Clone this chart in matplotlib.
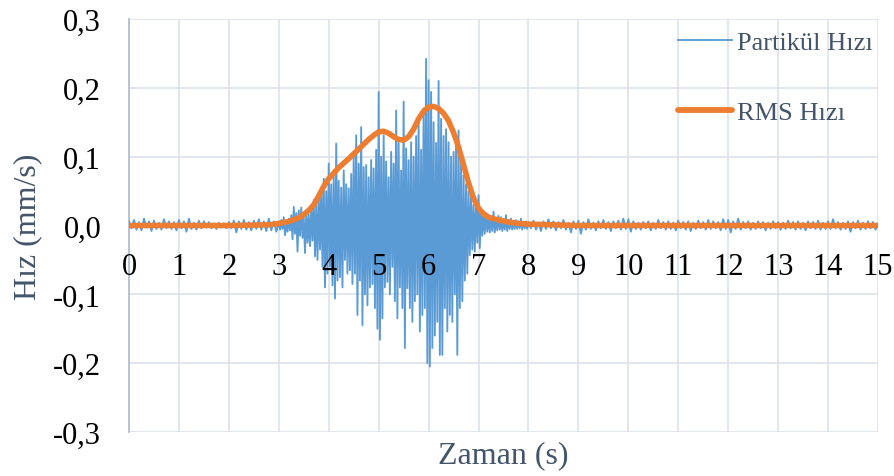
import numpy as np
import matplotlib
matplotlib.use("Agg")
import matplotlib.pyplot as plt
from matplotlib.lines import Line2D

plt.rcParams['font.family'] = ['Liberation Serif', 'DejaVu Serif']

# particle velocity (mm/s)
# quiet part 0 - 3 s, one value every 0.05 s
vel_pre = [0.006, -0.004, 0.008, -0.006, 0.005, -0.007, 0.010, -0.003, 0.006, -0.008,
           0.007, -0.005, 0.004, -0.006, 0.009, -0.004, 0.006, -0.005, 0.005, -0.007,
           0.008, -0.004, 0.006, -0.009, 0.010, -0.005, 0.004, -0.006, 0.007, -0.004,
           0.006, -0.003, 0.005, -0.004, 0.003, -0.005, 0.004, -0.003, 0.003, -0.004,
           0.005, -0.004, 0.007, -0.010, 0.006, -0.005, 0.008, -0.006, 0.005, -0.007,
           0.007, -0.005, 0.009, -0.006, 0.006, -0.008, 0.010, -0.007, 0.006, -0.009]
# burst 3 - 8 s, one value every 0.025 s
vel_burst = [0.004, -0.006, 0.008, -0.005, 0.012, -0.014, 0.006, -0.009, 0.010, -0.007,
             0.015, -0.020, 0.027, -0.012, 0.018, -0.038, 0.022, -0.015, 0.026, -0.018,
             0.012, -0.040, 0.020, -0.025, 0.016, -0.030, 0.025, -0.022, 0.037, -0.045,
             0.030, -0.050, 0.045, -0.035, 0.055, -0.060, 0.068, -0.090, 0.050, -0.070,
             0.090, -0.060, 0.060, -0.087, 0.070, -0.106, 0.119, -0.080, 0.065, -0.075,
             0.055, -0.090, 0.080, -0.050, 0.060, -0.070, 0.054, -0.065, 0.075, -0.085,
             0.100, -0.070, 0.131, -0.130, 0.090, -0.080, 0.143, -0.145, 0.085, -0.100,
             0.088, -0.116, 0.070, -0.090, 0.095, -0.085, 0.083, -0.120, 0.110, -0.150,
             0.194, -0.166, 0.100, -0.135, 0.131, -0.090, 0.093, -0.082, 0.070, -0.100,
             0.107, -0.060, 0.090, -0.110, 0.167, -0.135, 0.120, -0.090, 0.080, -0.120,
             0.180, -0.178, 0.112, -0.091, 0.095, -0.120, 0.121, -0.140, 0.100, -0.110,
             0.130, -0.100, 0.150, -0.154, 0.110, -0.130, 0.170, -0.120, 0.242, -0.200,
             0.211, -0.205, 0.194, -0.178, 0.150, -0.160, 0.120, -0.140, 0.210, -0.188,
             0.155, -0.188, 0.130, -0.120, 0.140, -0.154, 0.121, -0.130, 0.100, -0.140,
             0.107, -0.100, 0.120, -0.188, 0.138, -0.120, 0.090, -0.110, 0.073, -0.080,
             0.060, -0.070, 0.050, -0.043, 0.044, -0.035, 0.030, -0.038, 0.035, -0.025,
             0.044, -0.033, 0.025, -0.015, 0.020, -0.012, 0.017, -0.009, 0.015, -0.010,
             0.012, -0.008, 0.020, -0.010, 0.010, -0.007, 0.014, -0.006, 0.012, -0.008,
             0.009, -0.006, 0.015, -0.008, 0.008, -0.005, 0.010, -0.006, 0.007, -0.005,
             0.008, -0.005, 0.006, -0.004, 0.010, -0.006, 0.005, -0.004, 0.006, -0.005]
# quiet part 8 - 15 s, one value every 0.05 s
vel_post = [0.005, -0.004, 0.007, -0.006, 0.004, -0.008, 0.006, -0.005, 0.009, -0.004,
            0.006, -0.007, 0.005, -0.004, 0.008, -0.006, 0.004, -0.010, 0.006, -0.005,
            0.007, -0.012, 0.005, -0.006, 0.009, -0.005, 0.004, -0.007, 0.006, -0.004,
            0.008, -0.005, 0.005, -0.008, 0.006, -0.004, 0.007, -0.006, 0.010, -0.005,
            0.009, -0.009, 0.006, -0.005, 0.004, -0.006, 0.005, -0.004, 0.006, -0.007,
            0.004, -0.005, 0.008, -0.004, 0.005, -0.006, 0.006, -0.005, 0.004, -0.007,
            0.007, -0.004, 0.005, -0.006, 0.006, -0.008, 0.004, -0.005, 0.007, -0.004,
            0.005, -0.006, 0.008, -0.005, 0.006, -0.004, 0.005, -0.007, 0.009, -0.005,
            0.008, -0.010, 0.006, -0.005, 0.010, -0.006, 0.005, -0.004, 0.006, -0.006,
            0.004, -0.005, 0.006, -0.004, 0.005, -0.007, 0.004, -0.005, 0.006, -0.004,
            0.005, -0.006, 0.004, -0.005, 0.007, -0.004, 0.005, -0.006, 0.006, -0.005,
            0.004, -0.007, 0.006, -0.004, 0.005, -0.005, 0.007, -0.006, 0.004, -0.005,
            0.006, -0.005, 0.009, -0.004, 0.005, -0.006, 0.004, -0.005, 0.006, -0.009,
            0.005, -0.004, 0.007, -0.006, 0.004, -0.005, 0.006, -0.004, 0.005, -0.006,
            0.003]

# RMS velocity
rms_t = [0, 1, 2, 2.8, 3.0, 3.2, 3.4, 3.5, 3.6, 3.7, 3.8, 3.9, 4.0, 4.2, 4.4, 4.6,
         4.8, 4.9, 5.0, 5.1, 5.2, 5.3, 5.4, 5.5, 5.6, 5.7, 5.8, 5.9, 6.0, 6.1, 6.2,
         6.3, 6.4, 6.5, 6.6, 6.7, 6.8, 6.9, 7.0, 7.1, 7.2, 7.4, 7.6, 7.8, 8.0, 8.5,
         9, 10, 11, 12, 13, 14, 15]
rms_v = [0.0, 0.0, 0.0, 0.001, 0.003, 0.006, 0.011, 0.016, 0.022, 0.030, 0.043, 0.057,
         0.068, 0.084, 0.097, 0.111, 0.125, 0.131, 0.136, 0.137, 0.134, 0.129, 0.125,
         0.124, 0.129, 0.140, 0.155, 0.166, 0.172, 0.173, 0.170, 0.163, 0.152, 0.135,
         0.114, 0.088, 0.062, 0.040, 0.025, 0.017, 0.012, 0.008, 0.005, 0.003, 0.002,
         0.001, 0.0, 0.0, 0.0, 0.0, 0.0, 0.0, 0.0]

x_ticks = list(range(16))
y_ticks = [-0.3, -0.2, -0.1, 0.0, 0.1, 0.2, 0.3]
y_labels = ["-0,3", "-0,2", "-0,1", "0,0", "0,1", "0,2", "0,3"]

t_pre = np.arange(len(vel_pre)) * 0.05
t_burst = 3 + np.arange(len(vel_burst)) * 0.025
t_post = 8 + np.arange(len(vel_post)) * 0.05
t_all = np.concatenate([t_pre, t_burst, t_post])
v_all = np.concatenate([vel_pre, vel_burst, vel_post])

blue = "#5B9BD5"
orange = "#ED7D31"
grid_c = "#DDE2EA"
slate = "#44546A"

fig = plt.figure(figsize=(8.94, 4.77), dpi=100)
ax = fig.add_axes([129 / 894, 1 - 433 / 477, (878 - 129) / 894, (433 - 20) / 477])

ax.plot(t_all, v_all, color=blue, lw=1.35, zorder=3)
ax.plot(rms_t, rms_v, color=orange, lw=4.0, solid_capstyle="round", zorder=4)

ax.set_xlim(0, 15)
ax.set_ylim(-0.3, 0.3)
ax.set_xticks(x_ticks)
ax.set_xticklabels([])
ax.set_yticks(y_ticks)
ax.set_yticklabels(y_labels)
ax.grid(True, color=grid_c, lw=1.2, zorder=0)
ax.set_axisbelow(True)

# x tick labels sit on top of the signal, just under the zero line
for x in x_ticks:
    ax.annotate(str(x), (x, 0), xytext=(0, -19), textcoords="offset points",
                ha="center", va="top", fontsize=22, color="black",
                zorder=6, annotation_clip=False)

for s in ["top", "right"]:
    ax.spines[s].set_visible(False)
ax.spines["left"].set_color("#B4BED0")
ax.spines["left"].set_linewidth(1.3)
ax.spines["bottom"].set_position(("data", 0))
ax.spines["bottom"].set_color(grid_c)
ax.tick_params(axis="both", length=0, labelsize=22, colors="black")
ax.tick_params(axis="y", pad=20)

fig.text(28 / 894, 1 - 227 / 477, "Hız (mm/s)", rotation=90, ha="center", va="center",
         fontsize=23, color=slate)
fig.text(503.5 / 894, 1 - 456 / 477, "Zaman (s)", ha="center", va="center",
         fontsize=23, color=slate)

handles = [Line2D([], [], color=blue, lw=1.35),
           Line2D([], [], color=orange, lw=4.2, solid_capstyle="round")]
leg = fig.legend(handles, ["Partikül Hızı", "RMS Hızı"], loc="upper left",
                 bbox_to_anchor=(678 / 894, 1 - 32 / 477), frameon=False,
                 fontsize=19, labelspacing=1.75, handlelength=2.05,
                 handletextpad=0.2, borderpad=0, borderaxespad=0)
for txt in leg.get_texts():
    txt.set_color(slate)

fig.savefig("out.png", dpi=100)
